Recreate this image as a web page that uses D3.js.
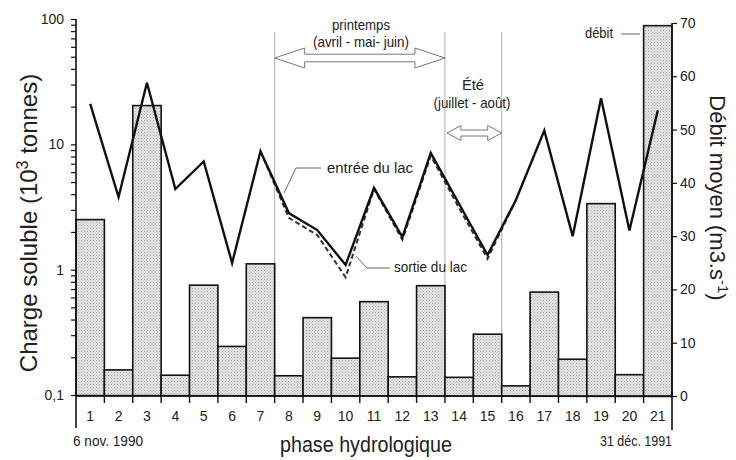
<!DOCTYPE html>
<html><head><meta charset="utf-8">
<script src="https://cdn.jsdelivr.net/npm/d3@7"></script>
<style>
body{margin:0;background:#fff;}
svg text{font-family:"Liberation Sans Narrow","Arial Narrow","Liberation Sans",Arial,sans-serif;fill:#222;}
</style></head>
<body><svg id="c" width="736" height="460"></svg>
<script>
const phases = d3.range(1,22).map(String);
const debit = [33.1,4.9,54.5,3.9,20.8,9.3,24.8,3.8,14.7,7.1,17.7,3.6,20.7,3.5,11.6,1.9,19.5,6.9,36.1,4.0,69.5];
const entree = [21,3.8,31,4.4,7.3,1.13,8.8,2.83,2.07,1.09,4.49,1.82,8.54,3.34,1.31,3.6,12.9,1.85,23.3,2.05,18.7];
const sortie = [null,null,null,null,null,null,8.8,2.59,1.89,0.87,4.4,1.73,8.1,3.1,1.22,3.6,null,null,null,null,null];
const leftTicks = [0.1,1,10,100];
const leftTickLabels = ["0,1","1","10","100"];
const rightTicks = [0,10,20,30,40,50,60,70];

const svg = d3.select("#c");
const X0=76, X1=672;
const x = d3.scaleBand().domain(phases).range([X0,X1]).padding(0);
const yL = d3.scaleLog().domain([0.1,100]).range([395,19]);
const yR = d3.scaleLinear().domain([0,70]).range([396,23]);

// stipple pattern
const defs = svg.append("defs");
const pat = defs.append("pattern").attr("id","dots").attr("width",3).attr("height",3).attr("patternUnits","userSpaceOnUse");
pat.append("rect").attr("width",3).attr("height",3).attr("fill","#e4e4e4");
pat.append("rect").attr("x",0).attr("y",0).attr("width",1).attr("height",1).attr("fill","#a8a8a8");
pat.append("rect").attr("x",1.5).attr("y",1.5).attr("width",1).attr("height",1).attr("fill","#bdbdbd");

// season vertical lines
const seasonLines = ["8","14","16"];
svg.append("g").selectAll("line").data(seasonLines).join("line")
  .attr("x1",d=>x(d)).attr("x2",d=>x(d)).attr("y1",32).attr("y2",yR(0))
  .attr("stroke","#999").attr("stroke-width",0.8);

// bars
svg.append("g").selectAll("rect").data(debit).join("rect")
  .attr("x",(d,i)=>x(phases[i])).attr("width",x.bandwidth())
  .attr("y",d=>yR(d)).attr("height",d=>yR(0)-yR(d))
  .attr("fill","url(#dots)").attr("stroke","#111").attr("stroke-width",1.6);

// left axis
const minor=[];
[0.1,1,10].forEach(b=>{for(let k=1;k<10;k++)minor.push(+(b*k).toPrecision(3));});
minor.push(100);
const gL = svg.append("g").attr("transform",`translate(${X0},0)`)
  .call(d3.axisLeft(yL).tickValues(minor).tickSize(5).tickSizeOuter(0).tickPadding(7)
    .tickFormat(d=>{const i=leftTicks.indexOf(d);return i>=0?leftTickLabels[i]:"";}));
gL.select(".domain").remove();
gL.selectAll(".tick line").attr("stroke","#111").attr("stroke-width",1.2);
gL.selectAll("text").style("font-size","14px");

// right axis
const gR = svg.append("g").attr("transform",`translate(${X1},0)`)
  .call(d3.axisRight(yR).tickValues(rightTicks).tickSize(5).tickSizeOuter(0).tickPadding(3));
gR.select(".domain").remove();
gR.selectAll(".tick line").attr("stroke","#111").attr("stroke-width",1.2);
gR.selectAll("text").style("font-size","14px");

// axis lines
svg.append("line").attr("x1",X0).attr("x2",X0).attr("y1",yL(100)).attr("y2",428).attr("stroke","#111").attr("stroke-width",1.6);
svg.append("line").attr("x1",X1).attr("x2",X1).attr("y1",yR(70)).attr("y2",430).attr("stroke","#111").attr("stroke-width",1.6);
svg.append("line").attr("x1",X0).attr("x2",X1).attr("y1",395.5).attr("y2",396.5).attr("stroke","#111").attr("stroke-width",1.6);

// bottom ticks at band boundaries
const gB = svg.append("g");
gB.selectAll("line").data(phases.slice(1)).join("line")
  .attr("x1",d=>x(d)).attr("x2",d=>x(d)).attr("y1",396).attr("y2",403)
  .attr("stroke","#111").attr("stroke-width",1.4);
gB.selectAll("text").data(phases).join("text")
  .attr("x",d=>x(d)+x.bandwidth()/2).attr("y",421).attr("text-anchor","middle")
  .style("font-size","14px").text(d=>d);

// lines
const line = d3.line().defined(d=>d!=null).x((d,i)=>x(phases[i])+x.bandwidth()/2).y(d=>yL(d));
svg.append("path").datum(sortie).attr("d",line).attr("fill","none")
  .attr("stroke","#333").attr("stroke-width",2).attr("stroke-dasharray","5,3");
svg.append("path").datum(entree).attr("d",line).attr("fill","none")
  .attr("stroke","#111").attr("stroke-width",2.4).attr("stroke-linejoin","miter");

// double arrows
function dblArrow(x1,x2,cy,hl,hh,sh){
  const p=`M${x1},${cy} L${x1+hl},${cy-hh} L${x1+hl},${cy-sh} L${x2-hl},${cy-sh} L${x2-hl},${cy-hh} L${x2},${cy} L${x2-hl},${cy+hh} L${x2-hl},${cy+sh} L${x1+hl},${cy+sh} L${x1+hl},${cy+hh} Z`;
  svg.append("path").attr("d",p).attr("fill","#fff").attr("stroke","#777").attr("stroke-width",1);
}
dblArrow(x("8"),x("14"),58,30,10,3.8);
dblArrow(x("14")+2,x("16"),133,14,7.5,3);

// annotations
const t = (xx,yy,s,anchor,size,len)=>{const e=svg.append("text").attr("x",xx).attr("y",yy).attr("text-anchor",anchor||"start").style("font-size",(size||14)+"px").text(s); if(len) e.attr("textLength",len).attr("lengthAdjust","spacingAndGlyphs"); return e;};
t(361,30,"printemps","middle",15,58);
t(361,47,"(avril - mai- juin)","middle",15,96);
t(473,90,"Été","middle",15,22);
t(472,108,"(juillet - août)","middle",15,77);
t(327,173,"entrée du lac","start",15,86);
t(394,272,"sortie du lac","start",15,73);
t(585,38,"débit","start",14,28);
t(73,446,"6 nov. 1990","start",14,70);
t(672,446,"31 déc. 1991","end",14,72);
t(366,452,"phase hydrologique","middle",22,172);

// leader lines
const lead = d3.line();
svg.append("path").attr("d",lead([[321,168],[296,168],[284,193]])).attr("fill","none").attr("stroke","#555").attr("stroke-width",0.9);
svg.append("path").attr("d",lead([[390,268],[367,268],[356,256]])).attr("fill","none").attr("stroke","#555").attr("stroke-width",0.9);
svg.append("path").attr("d",lead([[621,34],[640,34]])).attr("fill","none").attr("stroke","#555").attr("stroke-width",0.9);

// axis titles
const lt = svg.append("text").attr("transform","translate(37,223) rotate(-90)").attr("text-anchor","middle").style("font-size","24px");
lt.append("tspan").text("Charge soluble (10");
lt.append("tspan").attr("dy",-9).style("font-size","16px").text("3");
lt.append("tspan").attr("dy",9).text(" tonnes)");
const rt = svg.append("text").attr("transform","translate(710,198) rotate(90)").attr("text-anchor","middle").style("font-size","22px");
rt.append("tspan").text("Débit moyen (m3.s");
rt.append("tspan").attr("dy",-8).style("font-size","15px").text("-1");
rt.append("tspan").attr("dy",8).text(")");
</script></body></html>
